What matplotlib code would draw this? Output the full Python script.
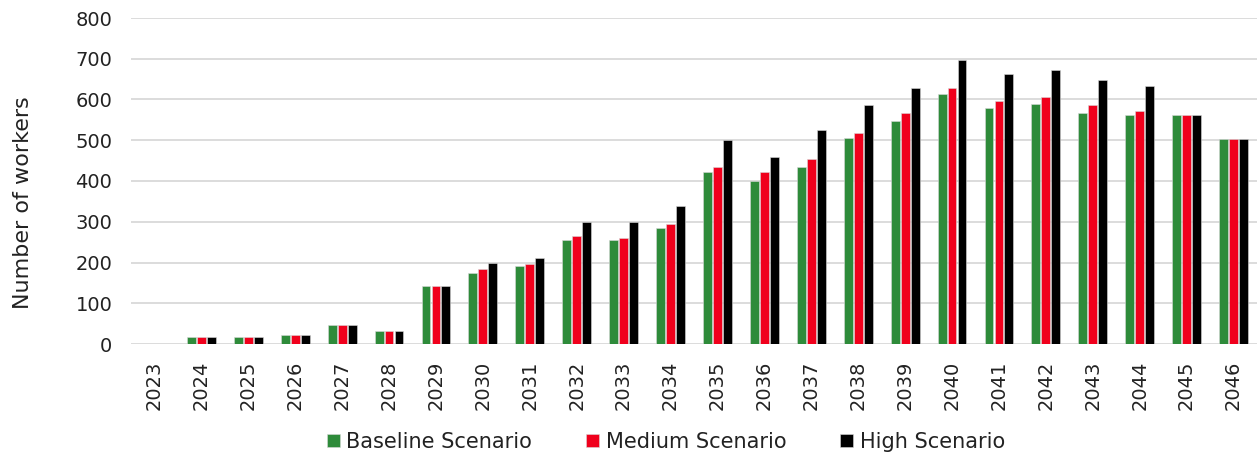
import matplotlib.pyplot as plt
import numpy as np

years = [str(y) for y in range(2023, 2047)]
baseline = [0, 17, 17, 22, 46, 32, 142, 175, 191, 256, 256, 285, 421, 401, 435, 505,
            547, 614, 580, 590, 566, 562, 562, 503]
medium = [0, 17, 17, 22, 46, 32, 142, 185, 196, 265, 261, 295, 435, 421, 455, 518,
          566, 628, 596, 605, 586, 571, 562, 503]
high = [0, 17, 17, 22, 46, 32, 142, 200, 210, 300, 300, 339, 500, 459, 525, 586,
        629, 697, 663, 672, 648, 634, 562, 503]

series = [("Baseline Scenario", baseline, "#2e8b3a"),
          ("Medium Scenario", medium, "#f0001c"),
          ("High Scenario", high, "#000000")]


def main():
    fig = plt.figure(figsize=(12.57, 4.62), dpi=100)
    ax = fig.add_axes([131 / 1257, 1 - 344 / 462, 1126 / 1257, 326 / 462])

    x = np.arange(len(years))
    offset = 0.213
    for i, (name, vals, col) in enumerate(series):
        ax.bar(x + (i - 1) * offset, vals, width=0.19, color=col,
               edgecolor="#d8d8d8", linewidth=0.4, label=name, zorder=3)

    ax.set_ylim(0, 800)
    ax.set_xlim(-0.5, len(years) - 0.5)
    ax.set_yticks(range(0, 801, 100))
    ax.set_xticks(x)
    ax.set_xticklabels(years, rotation=90)
    ax.tick_params(axis="both", length=0, labelsize=14, colors="#222222")
    ax.tick_params(axis="y", pad=13.5)
    ax.tick_params(axis="x", pad=12)
    ax.grid(axis="y", color="#d9d9d9", linewidth=1.3, zorder=0)
    for s in ax.spines.values():
        s.set_visible(False)

    fig.text(23 / 1257, 1 - 203 / 462, "Number of workers", rotation=90,
             ha="center", va="center", fontsize=16, color="#222222")

    fig.legend(loc="center", bbox_to_anchor=(666 / 1257, 1 - 442 / 462), ncol=3,
               frameon=False, fontsize=15, handlelength=0.62, handleheight=0.62,
               handletextpad=0.3, columnspacing=2.6, labelcolor="#222222")

    fig.savefig("out.png", dpi=100)


if __name__ == '__main__':
    main()
